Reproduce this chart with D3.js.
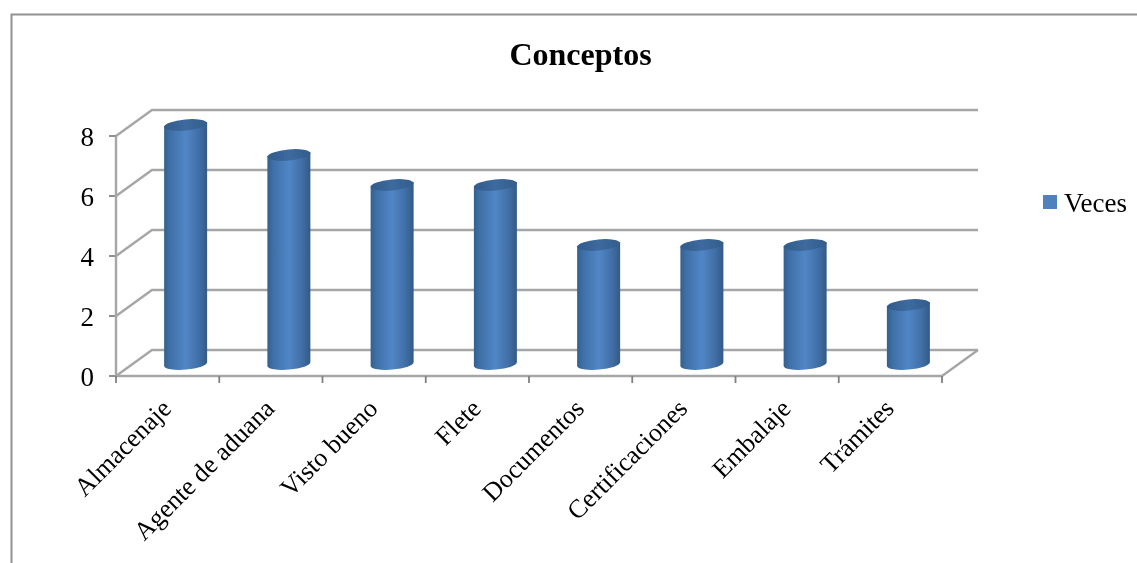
<!DOCTYPE html>
<html><head><meta charset="utf-8">
<script src="https://cdn.jsdelivr.net/npm/d3@7"></script>
<style>html,body{margin:0;padding:0;background:#fff}svg{display:block}text{font-family:"Liberation Serif",serif;fill:#000}</style>
</head><body><svg id="c" width="1137" height="563"></svg>
<script>
const categories=["Almacenaje","Agente de aduana","Visto bueno","Flete","Documentos","Certificaciones","Embalaje","Trámites"];
const values=[8,7,6,6,4,4,4,2];
const yTicks=[0,2,4,6,8];
const seriesName="Veces";
const chartTitle="Conceptos";

const svg=d3.select("#c");
const defs=svg.append("defs");
const grad=defs.append("linearGradient").attr("id","cyl");
[[0,"#34608f"],[.14,"#3f70a8"],[.5,"#5186c6"],[.8,"#416fa8"],[1,"#335a85"]].forEach(s=>grad.append("stop").attr("offset",s[0]).attr("stop-color",s[1]));
const gbot=defs.append("linearGradient").attr("id","cap");
[[0,"#325b8a"],[.5,"#3d6a9f"],[1,"#335d8b"]].forEach(s=>gbot.append("stop").attr("offset",s[0]).attr("stop-color",s[1]));
defs.append("filter").attr("id","soft").append("feGaussianBlur").attr("stdDeviation",0.7);
defs.append("filter").attr("id","softT").append("feGaussianBlur").attr("stdDeviation",0.3);

const x=d3.scaleBand().domain(categories).range([116,942]);
const y=d3.scaleLinear().domain([0,8]).range([376,136]);
const depth={dx:36,dy:-26};
const grey="#a6a6a6";

svg.append("path").attr("d","M11.5,563V14.5H1137").attr("fill","none").attr("stroke","#929292").attr("stroke-width",2);

const g=svg.append("g").attr("filter","url(#soft)");
yTicks.forEach(v=>{
  g.append("path").attr("fill","none").attr("stroke",grey).attr("stroke-width",2.4)
   .attr("d",`M${x.range()[0]},${y(v)}L${x.range()[0]+depth.dx},${y(v)+depth.dy}H${x.range()[1]+depth.dx}`);
  g.append("line").attr("x1",109).attr("x2",116).attr("y1",y(v)).attr("y2",y(v)).attr("stroke","#808080").attr("stroke-width",1.8);
});
g.append("path").attr("fill","none").attr("stroke",grey).attr("stroke-width",2.4)
 .attr("d",`M${x.range()[1]+depth.dx},${y(0)+depth.dy}L${x.range()[1]},${y(0)}H${x.range()[0]}V${y(8)}`);
const tickXs=categories.map(c=>x(c)).concat([x.range()[1]]);
g.selectAll(".ct").data(tickXs).join("line").attr("x1",d=>d).attr("x2",d=>d).attr("y1",376).attr("y2",383).attr("stroke","#808080").attr("stroke-width",1.8);

const rx=21.5, ry=5.6, tilt=-5, baseOff=-12, cxOff=18;
const bars=g.selectAll(".bar").data(categories.map((c,i)=>({c,v:values[i]}))).join("g").attr("class","bar");
bars.append("path").attr("fill","url(#cyl)").attr("d",d=>{
  const cx=x(d.c)+x.bandwidth()/2+cxOff, b=y(0)+baseOff, t=y(d.v)+baseOff;
  const a=Math.tan(tilt*Math.PI/180)*rx;
  return `M${cx-rx},${t-a}L${cx-rx},${b-a}A${rx},${ry} ${tilt} 0 0 ${cx+rx},${b+a}L${cx+rx},${t+a}Z`;
});
bars.append("ellipse").attr("fill","url(#cap)")
 .attr("rx",rx).attr("ry",ry)
 .attr("transform",d=>`translate(${x(d.c)+x.bandwidth()/2+cxOff},${y(d.v)+baseOff+1}) rotate(${tilt})`);

const t=svg.append("g").attr("filter","url(#softT)");
t.append("text").attr("x",580.5).attr("y",65).attr("text-anchor","middle").attr("font-size",32).attr("font-weight","bold").text(chartTitle);
t.selectAll(".yl").data(yTicks).join("text").attr("x",94).attr("y",d=>y(d)+10).attr("text-anchor","end").attr("font-size",27).text(d=>d);
t.selectAll(".xl").data(categories).join("text").attr("text-anchor","end").attr("font-size",26)
 .attr("transform",c=>`translate(${x(c)+x.bandwidth()/2+5},${410}) rotate(-45)`).text(c=>c);

svg.append("rect").attr("x",1043).attr("y",195).attr("width",14).attr("height",14).attr("fill","#4f81bd");
t.append("text").attr("x",1064).attr("y",212).attr("font-size",27).text(seriesName);
</script></body></html>
